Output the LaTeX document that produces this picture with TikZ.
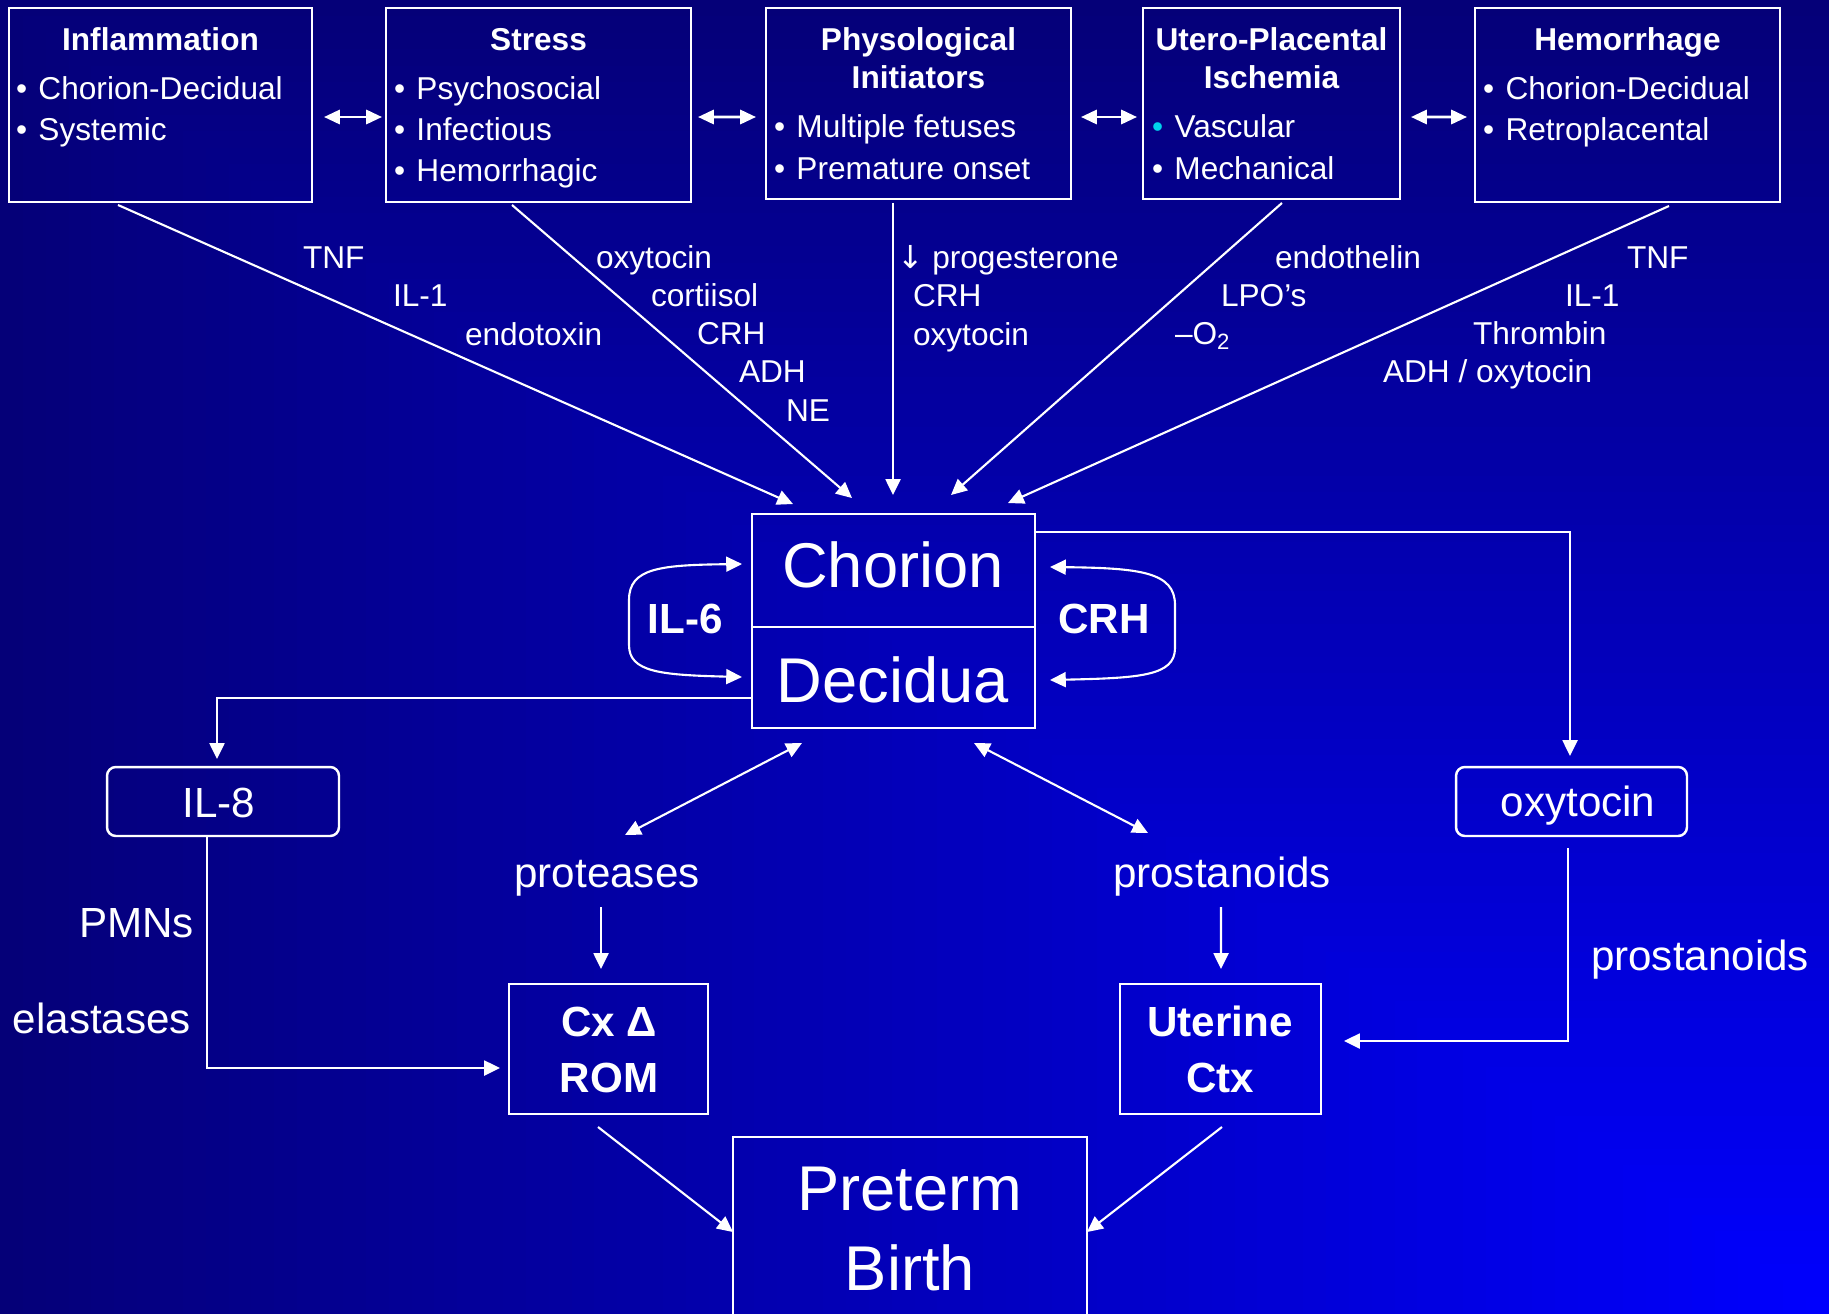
\documentclass[tikz,border=0pt]{standalone}
\usepackage{fontspec}
\setmainfont{Liberation Sans}
\newfontfamily\dvfont{DejaVu Sans}
\usetikzlibrary{arrows.meta}
\definecolor{bgdark}{RGB}{5,0,120}
\definecolor{bgbright}{RGB}{0,0,255}
\definecolor{bulcyan}{RGB}{0,210,235}
\newcommand\bul{\makebox[12.8pt][l]{•}}
\newcommand\cbul{\makebox[12.8pt][l]{\textcolor{bulcyan}{•}}}
\begin{document}
\begin{tikzpicture}[x=0.02cm,y=-0.02cm,
  box/.style={draw=white, line width=1.4pt, inner sep=0pt, outer sep=0pt},
  rbox/.style={box, rounded corners=5pt},
  txs/.style={text=white, inner sep=0pt, outer sep=0pt, font=\fontsize{18}{21}\selectfont},
  tit/.style={txs, font=\fontsize{18}{21}\selectfont\bfseries},
  txm/.style={text=white, inner sep=0pt, outer sep=0pt, font=\fontsize{24}{28}\selectfont},
  txmb/.style={txm, font=\fontsize{24}{28}\selectfont\bfseries},
  txl/.style={text=white, inner sep=0pt, outer sep=0pt, font=\fontsize{36}{42}\selectfont},
  arr/.style={draw=white, line width=1.2pt, -{Triangle[length=9pt,width=8.5pt]}},
  darr/.style={draw=white, line width=1.2pt, {Triangle[length=9pt,width=8.5pt]}-{Triangle[length=9pt,width=8.5pt]}},
  topd/.style={draw=white, line width=1.6pt, {Triangle[length=9pt,width=8pt]}-{Triangle[length=9pt,width=8pt]}}
]
\useasboundingbox (0,0) rectangle (1829,1313);
% background: rectangular gradient from the lower right corner
\foreach \i in {0,...,80}{
  \pgfmathsetmacro\tt{1-\i/80}
  \pgfmathsetmacro\pp{100*\i/80}
  \fill[bgbright!\pp!bgdark] ({1829*(1-\tt)},{1313*(1-\tt)}) rectangle (1830,1314);
}

% top boxes
\node[box, minimum width=6.06cm, minimum height=3.88cm] (b1) at (160.5,105) {};
\node[box, minimum width=6.10cm, minimum height=3.88cm] (b2) at (538.5,105) {};
\node[box, minimum width=6.10cm, minimum height=3.82cm] (b3) at (918.5,103.5) {};
\node[box, minimum width=5.14cm, minimum height=3.82cm] (b4) at (1271.5,103.5) {};
\node[box, minimum width=6.10cm, minimum height=3.88cm] (b5) at (1627.5,105) {};

\node[tit, anchor=base] (t1) at (160.5,50) {Inflammation};
\node[txs, anchor=base west] (t1a) at (16,99) {\bul Chorion-Decidual};
\node[txs, anchor=base west] (t1b) at (16,140) {\bul Systemic};

\node[tit, anchor=base] (t2) at (538.5,50) {Stress};
\node[txs, anchor=base west] (t2a) at (394,99) {\bul Psychosocial};
\node[txs, anchor=base west] (t2b) at (394,140) {\bul Infectious};
\node[txs, anchor=base west] (t2c) at (394,181) {\bul Hemorrhagic};

\node[tit, anchor=base] (t3) at (918.5,50) {Physological};
\node[tit, anchor=base] (t3x) at (918.5,88) {Initiators};
\node[txs, anchor=base west] (t3a) at (774,137) {\bul Multiple fetuses};
\node[txs, anchor=base west] (t3b) at (774,179) {\bul Premature onset};

\node[tit, anchor=base] (t4) at (1271.5,50) {Utero-Placental};
\node[tit, anchor=base] (t4x) at (1271.5,88) {Ischemia};
\node[txs, anchor=base west] (t4a) at (1152,137) {\cbul Vascular};
\node[txs, anchor=base west] (t4b) at (1152,179) {\bul Mechanical};

\node[tit, anchor=base] (t5) at (1627.5,50) {Hemorrhage};
\node[txs, anchor=base west] (t5a) at (1483,99) {\bul Chorion-Decidual};
\node[txs, anchor=base west] (t5b) at (1483,140) {\bul Retroplacental};

% double arrows between top boxes
\draw[topd] ([shift={(12,12)}]b1.east) -- ([shift={(-4,12)}]b2.west);
\draw[topd] ([shift={(7,12)}]b2.east) -- ([shift={(-10,13.5)}]b3.west);
\draw[topd] ([shift={(10,13.5)}]b3.east) -- ([shift={(-6,13.5)}]b4.west);
\draw[topd] ([shift={(11,13.5)}]b4.east) -- ([shift={(-8,12)}]b5.west);

% chorion / decidua
\node[box, minimum width=5.66cm, minimum height=2.26cm] (chorion) at (893.5,570.5) {};
\node[box, minimum width=5.66cm, minimum height=2.02cm] (decidua) at (893.5,677.5) {};
\node[txl, anchor=base] (chorionT) at (893,587) {Chorion};
\node[txl, anchor=base] (deciduaT) at (893,702) {Decidua};

% converging arrows
\draw[arr] ([shift={(-42.5,3)}]b1.south) -- ([shift={(-100.5,-10)}]chorion.north);
\draw[arr] ([shift={(-26.5,3)}]b2.south) -- ([shift={(-41.5,-16)}]chorion.north);
\draw[arr] ([shift={(-25.5,4)}]b3.south) -- ([shift={(-0.5,-19)}]chorion.north);
\draw[arr] ([shift={(10.5,4)}]b4.south) -- ([shift={(57.5,-19)}]chorion.north);
\draw[arr] ([shift={(41.5,4)}]b5.south) -- ([shift={(114.5,-11)}]chorion.north);

% labels of converging arrows
\node[txs, anchor=base west] (la1) at (303,268) {TNF};
\node[txs, anchor=base west] (la2) at (393,306) {IL-1};
\node[txs, anchor=base west] (la3) at (465,345) {endotoxin};
\node[txs, anchor=base west] (lb1) at (596,268) {oxytocin};
\node[txs, anchor=base west] (lb2) at (651,306) {cortiisol};
\node[txs, anchor=base west] (lb3) at (697,344) {CRH};
\node[txs, anchor=base west] (lb4) at (739,382) {ADH};
\node[txs, anchor=base west] (lb5) at (786,421) {NE};
\node[txs, anchor=base west] (lc1) at (897,268) {{\dvfont ↓}\hspace{5pt}progesterone};
\node[txs, anchor=base west] (lc2) at (913,306) {CRH};
\node[txs, anchor=base west] (lc3) at (913,345) {oxytocin};
\node[txs, anchor=base west] (ld1) at (1275,268) {endothelin};
\node[txs, anchor=base west] (ld2) at (1221,306) {LPO’s};
\node[txs, anchor=base west] (ld3) at (1175,344) {–O\textsubscript{2}};
\node[txs, anchor=base west] (le1) at (1627,268) {TNF};
\node[txs, anchor=base west] (le2) at (1565,306) {IL-1};
\node[txs, anchor=base west] (le3) at (1473,344) {Thrombin};
\node[txs, anchor=base west] (le4) at (1383,382) {ADH / oxytocin};

% loops
\coordinate (l1) at ([shift={(-10,-6.5)}]chorion.west);
\coordinate (l2) at ([shift={(-10,-0.5)}]decidua.west);
\draw[darr] (l1) .. controls (660,565) and (629,568) .. (629,600) -- (629,645) .. controls (629,672) and (660,675) .. (l2);
\coordinate (r1) at ([shift={(15,-3.5)}]chorion.east);
\coordinate (r2) at ([shift={(15,2.5)}]decidua.east);
\draw[darr] (r1) .. controls (1140,568) and (1175,572) .. (1175,605) -- (1175,648) .. controls (1175,676) and (1140,678) .. (r2);
\node[txmb, anchor=base] (il6) at (685,633) {IL-6};
\node[txmb, anchor=base] (crh) at (1104,633) {CRH};

% IL-8 and oxytocin boxes
\node[rbox, minimum width=4.64cm, minimum height=1.38cm] (il8) at (223,801.5) {};
\node[txm, anchor=base] (il8T) at (219,817) {IL-8};
\node[rbox, minimum width=4.62cm, minimum height=1.38cm] (oxy) at (1571.5,801.5) {};
\node[txm, anchor=base] (oxyT) at (1578,816) {oxytocin};

\draw[arr] ([shift={(0,-38.5)}]chorion.east) -| ([shift={(-1.5,-11)}]oxy.north);
\draw[arr] ([shift={(0,20.5)}]decidua.west) -| ([shift={(-6,-8)}]il8.north);

% middle labels
\node[txm, anchor=base] (prot) at (607,887) {proteases};
\node[txm, anchor=base] (pros) at (1222,887) {prostanoids};
\node[txm, anchor=base east] (pmn) at (194,937) {PMNs};
\node[txm, anchor=base east] (ela) at (191,1033) {elastases};
\node[txm, anchor=base west] (pros2) at (1591,970) {prostanoids};

\draw[darr] ([shift={(-91.5,15)}]decidua.south) -- ([shift={(18,-52)}]prot.base);
\draw[darr] ([shift={(80.5,15)}]decidua.south) -- ([shift={(-74,-54)}]pros.base);

% Cx and Uterine boxes
\node[box, minimum width=3.98cm, minimum height=2.60cm] (cx) at (608.5,1049) {};
\node[txmb, anchor=base] (cxT1) at (609,1036) {Cx Δ};
\node[txmb, anchor=base] (cxT2) at (609,1092) {ROM};
\node[box, minimum width=4.02cm, minimum height=2.60cm] (ut) at (1220.5,1049) {};
\node[txmb, anchor=base] (utT1) at (1220,1036) {Uterine};
\node[txmb, anchor=base] (utT2) at (1220,1092) {Ctx};

\draw[arr] ([shift={(-6,20)}]prot.base) -- ([shift={(-7.5,-15)}]cx.north);
\draw[arr] ([shift={(-1,20)}]pros.base) -- ([shift={(0.5,-15)}]ut.north);
\draw[arr] ([shift={(-16,0)}]il8.south) |- ([shift={(-9,19)}]cx.west);
\draw[arr] ([shift={(-3.5,12)}]oxy.south) |- ([shift={(23,-8)}]ut.east);

% Preterm birth
\node[box, minimum width=7.08cm, minimum height=4.06cm] (preterm) at (910,1238.5) {};
\node[txl, anchor=base] (ptT1) at (910,1210) {Preterm};
\node[txl, anchor=base] (ptT2) at (910,1290) {Birth};
\draw[arr] ([shift={(-10.5,13)}]cx.south) -- ([shift={(0,95)}]preterm.north west);
\draw[arr] ([shift={(1.5,13)}]ut.south) -- ([shift={(0,95)}]preterm.north east);
\end{tikzpicture}
\end{document}
